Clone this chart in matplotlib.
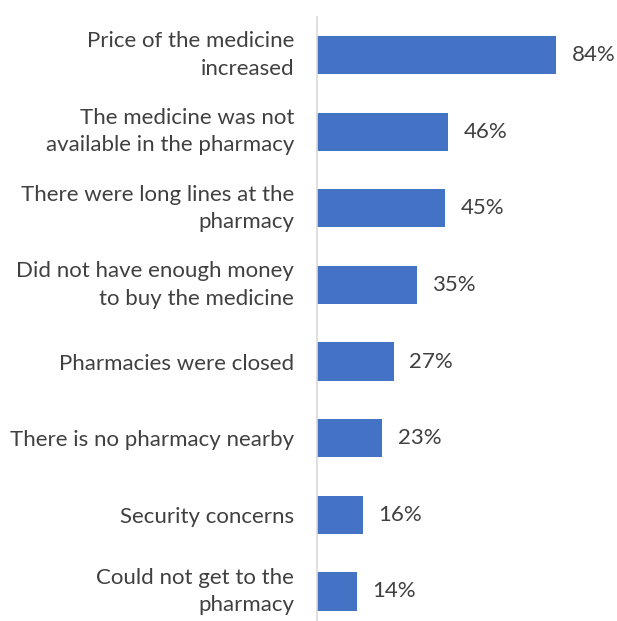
import matplotlib.pyplot as plt

categories = [
    "Price of the medicine\nincreased",
    "The medicine was not\navailable in the pharmacy",
    "There were long lines at the\npharmacy",
    "Did not have enough money\nto buy the medicine",
    "Pharmacies were closed",
    "There is no pharmacy nearby",
    "Security concerns",
    "Could not get to the\npharmacy",
]
values = [84, 46, 45, 35, 27, 23, 16, 14]

BAR_COLOR = "#4472C4"
TEXT_COLOR = "#404040"

plt.rcParams["font.family"] = ["Lato", "DejaVu Sans"]

fig = plt.figure(figsize=(6.17, 6.21), dpi=100)
ax = fig.add_axes([0.5138, -0.014, 0.4862, 0.987])

y = list(range(len(categories)))
ax.barh(y, values, height=0.5, color=BAR_COLOR)

# percentage labels just right of each bar
for yi, v in zip(y, values):
    ax.text(v + 5.5, yi, f"{v}%", va="center", ha="left",
            fontsize=16, color=TEXT_COLOR)

ax.set_xlim(0, 105.5)
ax.set_ylim(len(categories) - 0.5, -0.5)
ax.set_yticks(y)
ax.set_yticklabels(categories, fontsize=16, color=TEXT_COLOR,
                   linespacing=1.45)
for lbl in ax.get_yticklabels():
    if "\n" in lbl.get_text():
        lbl.set_verticalalignment("center")
ax.tick_params(axis="y", length=0, pad=16.5)
ax.set_xticks([])

for side in ["top", "right", "bottom"]:
    ax.spines[side].set_visible(False)
ax.spines["left"].set_color("#d9d9d9")
ax.spines["left"].set_linewidth(1.2)

fig.savefig("out.png", dpi=100)
plt.close(fig)
